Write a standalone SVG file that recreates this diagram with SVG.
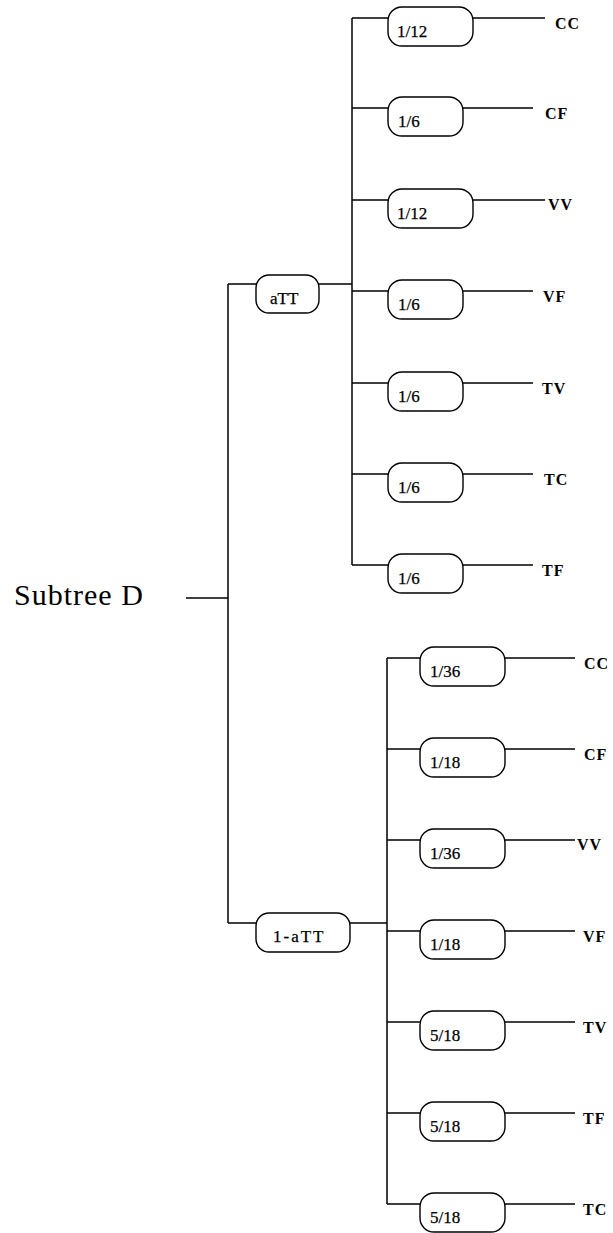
<svg xmlns="http://www.w3.org/2000/svg" width="613" height="1233" viewBox="0 0 613 1233">
<style>
.ln{stroke:#000;stroke-width:1.5;fill:none}
.bx{stroke:#000;stroke-width:1.4;fill:#fff}
.p{font-family:"Liberation Serif","Times New Roman",serif;font-size:17px;fill:#000;stroke:#000;stroke-width:0.25}
.o{font-family:"Liberation Serif","Times New Roman",serif;font-size:16px;font-weight:bold;fill:#000;letter-spacing:1px}
.t{font-family:"Liberation Serif","Times New Roman",serif;font-size:30px;fill:#000;letter-spacing:1px}
</style>
<rect width="613" height="1233" fill="#fff"/>
<g id="connectors">
<path class="ln" d="M186 598H228M228 284V923M228 284H256M319 284H352M228 923H256M350 923H387"/>
<path class="ln" d="M352 18V565M387 658V1204"/>
<path class="ln" d="M352 18H388M473 18H545M352 108H388M463 108H533M352 200H388M473 200H545M352 291H388M463 291H533M352 383H388M463 383H533M352 474H388M463 474H533M352 565H388M463 565H533"/>
<path class="ln" d="M387 658H420M505 658H575M387 749H420M505 749H575M387 840H420M505 840H575M387 931H420M505 931H575M387 1022H420M505 1022H575M387 1113H420M505 1113H575M387 1204H420M505 1204H575"/>
</g>
<g id="root"><text class="t" x="14" y="605">Subtree D</text></g>
<g id="aTT"><rect class="bx" x="256" y="275" width="63" height="38" rx="13"/><text class="p" x="270" y="304">aTT</text></g>
<g id="one-minus-aTT"><rect class="bx" x="256" y="913" width="94" height="39" rx="13"/><text class="p" x="273" y="942" letter-spacing="2">1-aTT</text></g>
<g id="a1"><rect class="bx" x="388" y="7" width="85" height="39" rx="14"/><text class="p" x="397" y="37">1/12</text><text class="o" x="555" y="29">CC</text></g>
<g id="a2"><rect class="bx" x="388" y="97" width="75" height="39" rx="14"/><text class="p" x="398" y="127">1/6</text><text class="o" x="545" y="119">CF</text></g>
<g id="a3"><rect class="bx" x="388" y="189" width="85" height="39" rx="14"/><text class="p" x="397" y="219">1/12</text><text class="o" x="548" y="210">VV</text></g>
<g id="a4"><rect class="bx" x="388" y="280" width="75" height="39" rx="14"/><text class="p" x="398" y="310">1/6</text><text class="o" x="543" y="302">VF</text></g>
<g id="a5"><rect class="bx" x="388" y="372" width="75" height="39" rx="14"/><text class="p" x="398" y="402">1/6</text><text class="o" x="542" y="394">TV</text></g>
<g id="a6"><rect class="bx" x="388" y="463" width="75" height="39" rx="14"/><text class="p" x="398" y="493">1/6</text><text class="o" x="544" y="485">TC</text></g>
<g id="a7"><rect class="bx" x="388" y="554" width="75" height="39" rx="14"/><text class="p" x="398" y="584">1/6</text><text class="o" x="542" y="576">TF</text></g>
<g id="b1"><rect class="bx" x="420" y="647" width="85" height="39" rx="14"/><text class="p" x="430" y="677">1/36</text><text class="o" x="584" y="669">CC</text></g>
<g id="b2"><rect class="bx" x="420" y="738" width="85" height="39" rx="14"/><text class="p" x="430" y="768">1/18</text><text class="o" x="584" y="760">CF</text></g>
<g id="b3"><rect class="bx" x="420" y="829" width="85" height="39" rx="14"/><text class="p" x="430" y="859">1/36</text><text class="o" x="577" y="850">VV</text></g>
<g id="b4"><rect class="bx" x="420" y="920" width="85" height="39" rx="14"/><text class="p" x="430" y="950">1/18</text><text class="o" x="583" y="942">VF</text></g>
<g id="b5"><rect class="bx" x="420" y="1011" width="85" height="39" rx="14"/><text class="p" x="430" y="1041">5/18</text><text class="o" x="583" y="1033">TV</text></g>
<g id="b6"><rect class="bx" x="420" y="1102" width="85" height="39" rx="14"/><text class="p" x="430" y="1132">5/18</text><text class="o" x="583" y="1124">TF</text></g>
<g id="b7"><rect class="bx" x="420" y="1193" width="85" height="39" rx="14"/><text class="p" x="430" y="1223">5/18</text><text class="o" x="583" y="1215">TC</text></g>
</svg>
